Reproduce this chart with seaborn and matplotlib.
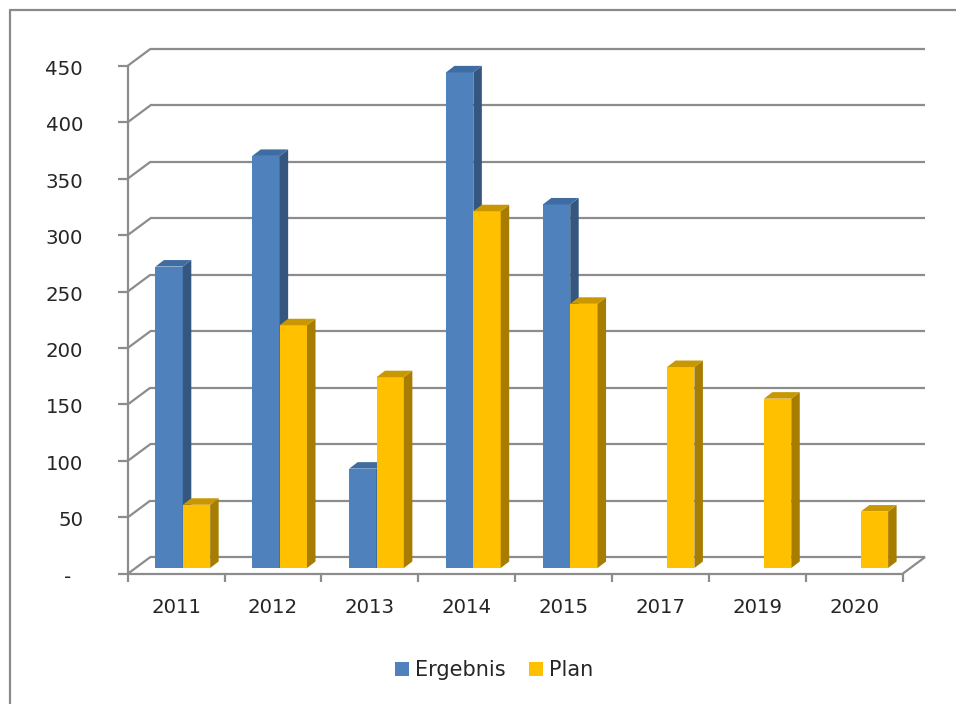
import matplotlib
matplotlib.use("Agg")
import matplotlib.pyplot as plt
import numpy as np
import pandas as pd
import seaborn as sns
from matplotlib.colors import to_hex
from matplotlib.lines import Line2D
from matplotlib.patches import Patch, Polygon

# ---- data -------------------------------------------------------------
years = ["2011", "2012", "2013", "2014", "2015", "2017", "2019", "2020"]
ergebnis = [267, 365, 88, 439, 322, None, None, None]
plan = [56, 215, 169, 316, 234, 178, 150, 50]
series = ["Ergebnis", "Plan"]
y_ticks = [0, 50, 100, 150, 200, 250, 300, 350, 400, 450]
y_tick_labels = ["-", "50", "100", "150", "200", "250", "300", "350", "400", "450"]

# ---- colours ----------------------------------------------------------
front_colors = {"Ergebnis": "#4F81BD", "Plan": "#FFC000"}
side_colors = {"Ergebnis": "#35567F", "Plan": "#A67D00"}
top_colors = {"Ergebnis": "#3F6CA3", "Plan": "#C99700"}
line_color = "#8C8C8C"
text_color = "#262626"

rows = []
for yr, e, p in zip(years, ergebnis, plan):
    if e is not None:
        rows.append({"Jahr": yr, "Reihe": "Ergebnis", "Wert": e})
    if p is not None:
        rows.append({"Jahr": yr, "Reihe": "Plan", "Wert": p})
df = pd.DataFrame(rows)

# ---- figure & pixel geometry of the bar plane ---------------------------
W, H = 956, 704
sns.set_style("white")
plt.rcParams["font.family"] = ["DejaVu Sans"]

fig = plt.figure(figsize=(W / 100, H / 100), dpi=100)
PX0, CAT_PX = 182.8, 96.85      # pixel x of first category centre, px per category
BASE_PY, VAL_PX = 568.0, 1.129  # pixel y of value 0, px per value unit
AX_L, AX_R, AX_T, AX_B = 100, 940, 30, 600
ax = fig.add_axes([AX_L / W, 1 - AX_B / H, (AX_R - AX_L) / W, (AX_B - AX_T) / H])

sns.barplot(
    data=df, x="Jahr", y="Wert", hue="Reihe", order=years, hue_order=series,
    palette=front_colors, saturation=1, width=0.565, linewidth=0,
    legend=False, ax=ax,
)
ax.set_xlim((AX_L - PX0) / CAT_PX, (AX_R - PX0) / CAT_PX)
ax.set_ylim((BASE_PY - AX_B) / VAL_PX, (BASE_PY - AX_T) / VAL_PX)
ax.set_axis_off()


def dx(px):
    return px / CAT_PX


def dy(px):
    return px / VAL_PX


# depth offsets (right, up) in pixels relative to the bar front plane
FRONT = (-6.6, -5.8)
BACK = (16.0, 11.0)
DEPTH = (8.5, 6.5)

x_left, x_right = -0.5, len(years) - 0.5
top_val = y_ticks[-1]
lkw = dict(color=line_color, lw=1.6, solid_capstyle="butt", zorder=1, clip_on=False)

fx, fy = dx(FRONT[0]), dy(FRONT[1])
bx, by = dx(BACK[0]), dy(BACK[1])

# back wall gridlines, left wall diagonals and tick marks
for v in y_ticks:
    ax.plot([x_left + bx, x_right + bx], [v + by, v + by], **lkw)
    ax.plot([x_left + fx, x_left + bx], [v + fy, v + by], **lkw)
    ax.plot([x_left + fx - dx(10), x_left + fx], [v + fy, v + fy], **lkw)

# front vertical axis, front floor edge, right floor edge
ax.plot([x_left + fx, x_left + fx], [fy, top_val + fy], **lkw)
ax.plot([x_left + fx, x_right + fx], [fy, fy], **lkw)
ax.plot([x_right + fx, x_right + bx], [fy, by], **lkw)

# category tick marks
for i in range(len(years) + 1):
    xb = i - 0.5 + fx
    ax.plot([xb, xb], [fy, fy - dy(8)], **lkw)

# 3D faces of the bars
name_by_color = {to_hex(c).lower(): n for n, c in front_colors.items()}
ddx, ddy = dx(DEPTH[0]), dy(DEPTH[1])
for p in ax.patches:
    h = p.get_height()
    if h is None or not np.isfinite(h) or h == 0:
        continue
    name = name_by_color[to_hex(p.get_facecolor()).lower()]
    z = 2 if name == "Ergebnis" else 3
    p.set_zorder(z)
    x0 = p.get_x()
    x1 = x0 + p.get_width()
    side = Polygon([(x1, 0), (x1 + ddx, ddy), (x1 + ddx, h + ddy), (x1, h)],
                   closed=True, fc=side_colors[name], ec="none", zorder=z + 0.5)
    top = Polygon([(x0, h), (x1, h), (x1 + ddx, h + ddy), (x0 + ddx, h + ddy)],
                  closed=True, fc=top_colors[name], ec="none", zorder=z + 0.5)
    ax.add_patch(side)
    ax.add_patch(top)

# y tick labels
for v, lab in zip(y_ticks, y_tick_labels):
    xpx = 71 if lab == "-" else 83
    ax.text((xpx - PX0) / CAT_PX, v + fy - dy(3.5), lab, ha="right", va="center",
            fontsize=14.2, color=text_color, clip_on=False)

# x tick labels
for i, yr in enumerate(years):
    ax.text(i + fx, (BASE_PY - 607.5) / VAL_PX, yr, ha="center", va="center",
            fontsize=14.2, color=text_color, clip_on=False)

# legend
handles = [Patch(fc=front_colors[s], ec="none") for s in series]
fig.legend(handles, series, loc="center", bbox_to_anchor=(494 / W, 1 - 670 / H),
           ncol=2, frameon=False, fontsize=15, handlelength=0.68, handleheight=0.68,
           handletextpad=0.3, columnspacing=1.1, labelcolor=text_color)

# outer chart border (top and left edges)
fig.add_artist(Line2D([9.5 / W, 1], [1 - 9.5 / H, 1 - 9.5 / H], transform=fig.transFigure,
                      color="#8A8A8A", lw=1.6))
fig.add_artist(Line2D([9.5 / W, 9.5 / W], [0, 1 - 9.5 / H], transform=fig.transFigure,
                      color="#8A8A8A", lw=1.6))

fig.savefig("out.png", dpi=100, facecolor="white")
